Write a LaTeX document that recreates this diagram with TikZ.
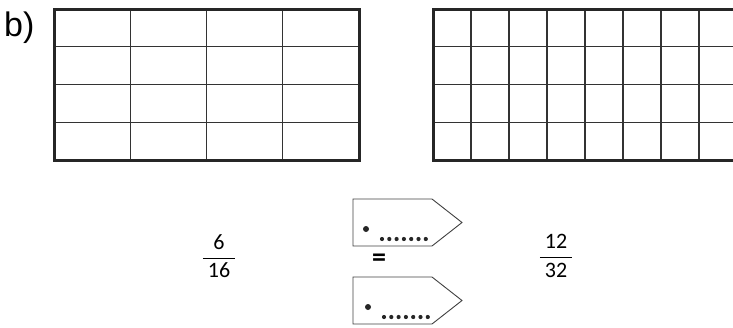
\documentclass[tikz,border=0pt]{standalone}
\usepackage{amsmath}
\usepackage{fontspec}
\setmainfont{Carlito}
\newfontfamily\labelfont{Liberation Sans}
\usepackage{tikz}
\usetikzlibrary{positioning}

\tikzset{
  frame/.style={line width=3pt, draw=black!85},
  cellline/.style={line width=1.1pt, draw=black!80},
  tag/.style={line width=0.9pt, draw=black!75},
  fracnum/.style={font=\fontsize{22}{24}\selectfont, inner sep=0pt}
}

\begin{document}
\begin{tikzpicture}[x=1pt,y=-1pt]
\useasboundingbox (0,0) rectangle (733,327);
\clip (0,0) rectangle (733,327);
% part label
\node[font=\labelfont\fontsize{34}{34}\selectfont, anchor=base west, inner sep=0pt] (part) at (4,36) {b)};
% left grid, 4 x 4
\foreach \i in {1,2,3} {
    \draw[cellline] (54+\i*76.25,9) -- ++(0,151);
    \draw[cellline] (54,9+\i*37.75) -- ++(305,0);
}
\draw[frame] (54,9) rectangle (359,160);
% right grid, 8 x 4
\foreach \i in {1,...,7}
    \draw[cellline] (433+\i*38,9) -- ++(0,151);
\foreach \i in {1,2,3}
    \draw[cellline] (433,9+\i*37.75) -- ++(304,0);
\draw[frame] (433,9) rectangle (737,160);
% fractions
\node[fracnum] (left) at (219,256) {$\dfrac{\text{6}}{\hspace{5pt}\text{16}\hspace{5pt}}$};
\node[fracnum] (right) at (556,256) {$\dfrac{\text{12}}{\hspace{5pt}\text{32}\hspace{5pt}}$};
% answer tags
\foreach \y/\dx in {199/0,277/2} {
    \draw[tag] (353,\y) -- (432,\y) -- (462,\y+23.5) -- (432,\y+47) -- (353,\y+47) -- cycle;
    \fill[black!85] (366+\dx,\y+30) circle (3pt);
    \foreach \k in {0,...,6}
        \fill[black!85] (382+\dx+\k*7.3,\y+40) circle (2.1pt);
}
\node[font=\bfseries\fontsize{28}{30}\selectfont, anchor=base, inner sep=0pt] (eq) at (379,266) {=};
\end{tikzpicture}
\end{document}
